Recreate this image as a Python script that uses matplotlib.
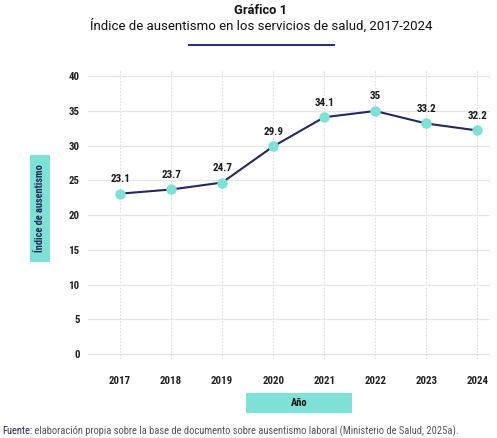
import matplotlib
matplotlib.use("Agg")
import matplotlib.pyplot as plt
from matplotlib.patches import Rectangle
from matplotlib.lines import Line2D
from matplotlib import font_manager

years = [2017, 2018, 2019, 2020, 2021, 2022, 2023, 2024]
values = [23.1, 23.7, 24.7, 29.9, 34.1, 35.0, 33.2, 32.2]
value_labels = ["23.1", "23.7", "24.7", "29.9", "34.1", "35", "33.2", "32.2"]
yticks = [0, 5, 10, 15, 20, 25, 30, 35, 40]

title = "Gráfico 1"
subtitle = "Índice de ausentismo en los servicios de salud, 2017-2024"
ylabel = "Índice de ausentismo"
xlabel = "Año"
source_bold = "Fuente:"
source_rest = " elaboración propia sobre la base de documento sobre ausentismo laboral (Ministerio de Salud, 2025a)."

NAVY = "#262a5a"
TEAL = "#7fe0d6"

names = sorted({f.name for f in font_manager.fontManager.ttflist})
cond_stretch = "normal"
cond_family = "DejaVu Sans"
for cand in ["Roboto Condensed", "Liberation Sans Narrow", "Open Sans Condensed",
             "Noto Sans Condensed", "DejaVu Sans Condensed"]:
    if cand in names:
        cond_family = cand
        break
else:
    if any("Condensed" in f.fname and f.name == "DejaVu Sans"
           for f in font_manager.fontManager.ttflist):
        cond_stretch = "condensed"
COND = dict(fontfamily=[cond_family, "DejaVu Sans"], fontstretch=cond_stretch)
REG = ["Roboto", "DejaVu Sans"]

W, H = 497, 438
fig = plt.figure(figsize=(W / 100, H / 100), dpi=100)
fig.patch.set_facecolor("white")

def fx(px):
    return px / W

def fy(py):
    return 1 - py / H

ax = fig.add_axes([fx(88), fy(359), fx(490) - fx(88), fy(70) - fy(359)])
ax.set_xlim(2016.37, 2024.25)
ax.set_ylim(-0.7, 40.9)
for s in ax.spines.values():
    s.set_visible(False)
ax.set_xticks(years)
ax.set_yticks(yticks)
ax.tick_params(length=0)
ax.set_xticklabels([str(y) for y in years], fontweight="bold",
                   fontsize=7.8, color="#222222", **COND)
ax.set_yticklabels([str(y) for y in yticks], fontweight="bold",
                   fontsize=7.8, color="#222222", **COND)
ax.tick_params(axis="y", pad=6)
ax.tick_params(axis="x", pad=12)
ax.yaxis.grid(True, color="#e6e6e6", linewidth=0.9, linestyle="-")
ax.xaxis.grid(True, color="#dddddd", linewidth=0.8, linestyle=(0, (1.5, 1.5)))
ax.set_axisbelow(True)

ax.plot(years, values, color="#24285a", linewidth=1.5, zorder=3)
ax.plot(years, values, linestyle="none", marker="o", markersize=6.5,
        markerfacecolor=TEAL, markeredgecolor=TEAL, zorder=4)
for x, v, lab in zip(years, values, value_labels):
    ax.annotate(lab, (x, v), xytext=(0, 7), textcoords="offset points",
                ha="center", va="bottom", fontweight="bold",
                fontsize=8, color="#1a1a1a", zorder=5, **COND)

fig.text(fx(261), fy(11), title, ha="center", va="center", fontfamily=REG,
         fontweight="bold", fontsize=9.3, color="#111111")
fig.text(fx(261), fy(26), subtitle, ha="center", va="center", fontfamily=REG,
         fontsize=9.5, color="#111111")
fig.add_artist(Line2D([fx(189), fx(334)], [fy(45), fy(45)], color="#2b3575",
                      linewidth=1.5, transform=fig.transFigure))

fig.add_artist(Rectangle((fx(30), fy(262)), fx(50) - fx(30), fy(155) - fy(262),
                         transform=fig.transFigure, facecolor=TEAL,
                         edgecolor="none"))
yl = fig.text(fx(40), fy(208), ylabel, rotation=90, ha="center", va="center",
              fontweight="bold", fontsize=7.5, color=NAVY, **COND)

fig.add_artist(Rectangle((fx(246), fy(413)), fx(352) - fx(246), fy(393) - fy(413),
                         transform=fig.transFigure, facecolor=TEAL,
                         edgecolor="none"))
fig.text(fx(299), fy(403), xlabel, ha="center", va="center",
         fontweight="bold", fontsize=7.5, color="#111111", **COND)

t1 = fig.text(fx(2), fy(431), source_bold, ha="left", va="center",
              fontsize=8.3, color=NAVY, **COND)
t2 = fig.text(0, fy(431), source_rest, ha="left", va="center",
              fontsize=8.3, color="#555555", **COND)
fig.canvas.draw()
r = fig.canvas.get_renderer()
total = t1.get_window_extent(r).width + t2.get_window_extent(r).width
size = 8.3 * min(1.0, 455.0 / total)
t1.set_fontsize(size)
t2.set_fontsize(size)
h = yl.get_window_extent(r).height
if h > 100:
    yl.set_fontsize(7.5 * 100.0 / h)
fig.canvas.draw()
bb = t1.get_window_extent(r)
t2.set_x(bb.x1 / W)

fig.savefig("out.png", dpi=100)
